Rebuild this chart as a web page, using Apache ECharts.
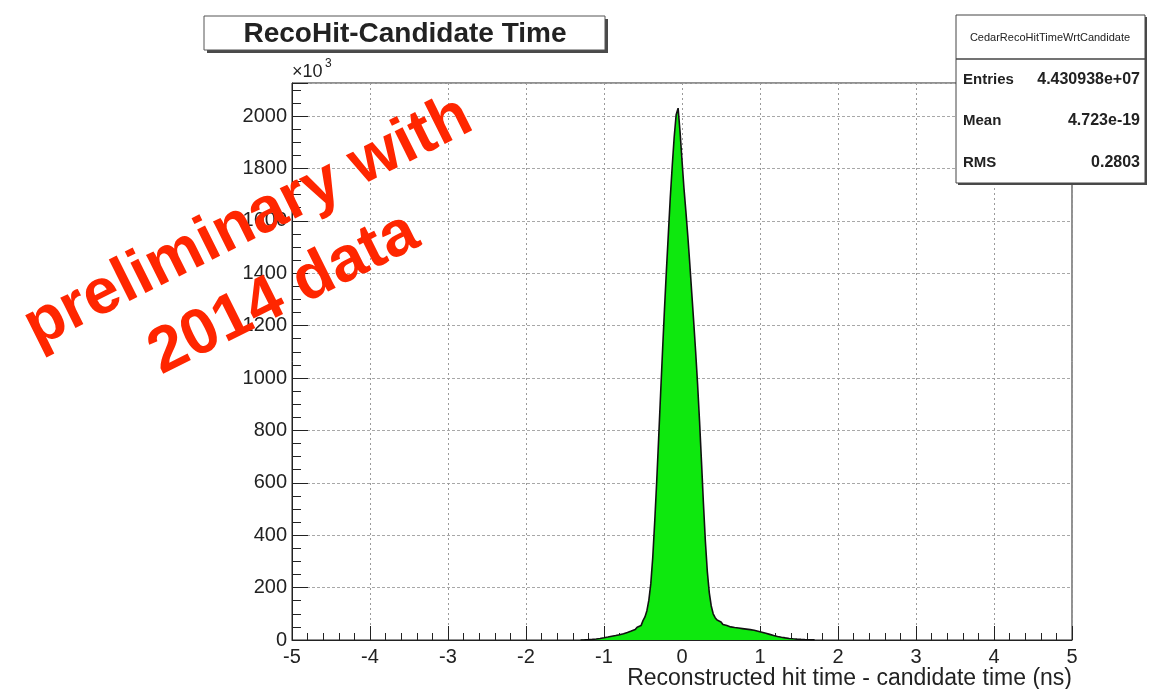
<!DOCTYPE html>
<html>
<head>
<meta charset="utf-8">
<script src="https://cdn.jsdelivr.net/npm/echarts@6/dist/echarts.min.js"></script>
<style>
  html, body { margin: 0; padding: 0; background: #ffffff; }
  #chart { width: 1162px; height: 689px; }
</style>
</head>
<body>
<div id="chart"></div>
<script>
// ---- histogram content ----
const histTitle = 'RecoHit-Candidate Time';
const histName = 'CedarRecoHitTimeWrtCandidate';
const xAxisTitle = 'Reconstructed hit time - candidate time (ns)';
const yExponent = '3';
const statsLabels = ['Entries', 'Mean', 'RMS'];
const statsValues = ['4.430938e+07', '4.723e-19', '0.2803'];
const watermark = ['preliminary with', '2014 data'];

const xTickValues = [-5, -4, -3, -2, -1, 0, 1, 2, 3, 4, 5];
const yTickValues = [0, 200, 400, 600, 800, 1000, 1200, 1400, 1600, 1800, 2000];
const yMax = 2126;

// filled bins: first bin low edge and width (ns), contents in units of 10^3 entries
const binLow = -1.3;
const binWidth = 0.025;
const counts = [
  0.3, 0.6, 1, 1.3, 1.8, 2.4, 3, 3.7, 4.6, 5.8,
  7, 8.4, 9.8, 11.3, 12.8, 14.3, 15.8, 17.2, 18.6, 20.2,
  22, 24, 26, 28.5, 31, 34, 37, 40, 44, 49,
  55, 62, 74, 88, 112, 152, 215, 315, 450, 600,
  765, 935, 1100, 1260, 1410, 1550, 1690, 1810, 1920, 2005,
  2030, 1940, 1830, 1725, 1635, 1540, 1435, 1325, 1215, 1100,
  975, 835, 680, 520, 375, 260, 180, 130, 100, 85,
  76, 69, 63, 59, 55, 52, 50, 49, 47.5, 46.5,
  45.5, 44.5, 43.5, 42.5, 41.5, 40.5, 39.5, 38.5, 37, 35.5,
  33.5, 31.5, 29.5, 27.5, 25.5, 23.5, 21.5, 19.5, 17.3, 15.3,
  13.5, 12, 10.5, 9.2, 8, 7, 6, 5.2, 4.5, 3.9,
  3.3, 2.8, 2.4, 2, 1.7, 1.4, 1.1, 0.8, 0.5, 0.3
];

// outline of the histogram as a step path through the bin edges
const histPath = [[binLow, 0]];
counts.forEach((c, i) => {
  const lo = +(binLow + i * binWidth).toFixed(4);
  const hi = +(binLow + (i + 1) * binWidth).toFixed(4);
  histPath.push([lo, c], [hi, c]);
});
histPath.push([+(binLow + counts.length * binWidth).toFixed(4), 0]);

const FONT = '"Liberation Sans", Arial, Helvetica, sans-serif';
const ink = '#222222';

const chart = echarts.init(document.getElementById('chart'), null, { renderer: 'canvas' });

const statsRowsY = [80, 121, 163];
const statsGraphics = [];
statsLabels.forEach((lab, i) => {
  statsGraphics.push({
    type: 'text', z: 102, x: 963, y: statsRowsY[i],
    style: { text: lab, font: 'bold 15px ' + FONT, fill: ink, align: 'left', verticalAlign: 'middle' }
  });
  statsGraphics.push({
    type: 'text', z: 102, x: 1140, y: statsRowsY[i],
    style: { text: statsValues[i], font: 'bold 16px ' + FONT, fill: ink, align: 'right', verticalAlign: 'middle' }
  });
});

const option = {
  backgroundColor: '#ffffff',
  animation: false,
  grid: {
    left: 292, right: 90, top: 83, bottom: 49,
    show: true, borderColor: ink, borderWidth: 1,
    backgroundColor: 'transparent',
    outerBoundsMode: 'none'
  },
  xAxis: {
    type: 'value',
    min: xTickValues[0],
    max: xTickValues[xTickValues.length - 1],
    interval: 1,
    axisLine: { show: true, onZero: false, lineStyle: { color: ink, width: 1 } },
    axisTick: { show: true, inside: true, length: 14, lineStyle: { color: ink, width: 1 } },
    minorTick: { show: true, splitNumber: 5, length: 7, lineStyle: { color: ink, width: 1 } },
    splitLine: { show: true, lineStyle: { color: '#9a9a9a', width: 1, type: [2, 3] } },
    minorSplitLine: { show: false },
    axisLabel: {
      show: true, margin: 7, color: ink, fontSize: 20, fontFamily: FONT,
      formatter: v => (xTickValues.indexOf(v) >= 0 ? String(v) : '')
    },
    name: xAxisTitle,
    nameLocation: 'end',
    nameGap: 0,
    nameTextStyle: {
      color: ink, fontSize: 23, fontFamily: FONT,
      align: 'right', verticalAlign: 'top', padding: [27, 0, 0, 0]
    }
  },
  yAxis: {
    type: 'value',
    min: 0,
    max: yMax,
    interval: 200,
    axisLine: { show: true, onZero: false, lineStyle: { color: ink, width: 1 } },
    axisTick: { show: true, inside: true, length: 16, lineStyle: { color: ink, width: 1 } },
    minorTick: { show: true, splitNumber: 4, length: 9, lineStyle: { color: ink, width: 1 } },
    splitLine: { show: true, lineStyle: { color: '#a8a8a8', width: 1, type: [3, 2] } },
    axisLabel: {
      show: true, margin: 5, color: ink, fontSize: 20, fontFamily: FONT,
      formatter: v => (yTickValues.indexOf(v) >= 0 ? String(v) : '')
    }
  },
  series: [{
    type: 'line',
    data: histPath,
    symbol: 'none',
    smooth: false,
    lineStyle: { color: '#111111', width: 1.6 },
    areaStyle: { color: '#0ee80e', opacity: 1, origin: 'start' },
    z: 3
  }],
  graphic: [
    // title pave with shadow
    { type: 'rect', z: 100, shape: { x: 207, y: 19, width: 401, height: 34 }, style: { fill: '#4a4a4a' } },
    { type: 'rect', z: 101, shape: { x: 204, y: 16, width: 401, height: 34 }, style: { fill: '#ffffff', stroke: '#555555', lineWidth: 1 } },
    { type: 'text', z: 102, x: 405, y: 34,
      style: { text: histTitle, font: 'bold 28px ' + FONT, fill: ink, align: 'center', verticalAlign: 'middle' } },
    // exponent of the y axis
    { type: 'text', z: 102, x: 292, y: 72,
      style: { text: '\u00d710', font: '18px ' + FONT, fill: ink, align: 'left', verticalAlign: 'middle' } },
    { type: 'text', z: 102, x: 325, y: 64,
      style: { text: yExponent, font: '12px ' + FONT, fill: ink, align: 'left', verticalAlign: 'middle' } },
    // statistics box with shadow
    { type: 'rect', z: 100, shape: { x: 958, y: 17, width: 189, height: 168 }, style: { fill: '#4a4a4a' } },
    { type: 'rect', z: 101, shape: { x: 956, y: 15, width: 189, height: 168 }, style: { fill: '#ffffff', stroke: '#444444', lineWidth: 1 } },
    { type: 'line', z: 102, shape: { x1: 956, y1: 59, x2: 1145, y2: 59 }, style: { stroke: '#444444', lineWidth: 1.5 } },
    { type: 'text', z: 102, x: 1050, y: 38,
      style: { text: histName, font: '11px ' + FONT, fill: ink, align: 'center', verticalAlign: 'middle' } },
    ...statsGraphics,
    // red stamp across the left part of the frame
    { type: 'text', z: 110, x: 266, y: 258, rotation: 26.5 * Math.PI / 180,
      style: { text: watermark.join('\n'), font: 'bold 64px ' + FONT, fill: '#ff2600',
               align: 'center', verticalAlign: 'middle', lineHeight: 80 } }
  ]
};

chart.setOption(option);
</script>
</body>
</html>
